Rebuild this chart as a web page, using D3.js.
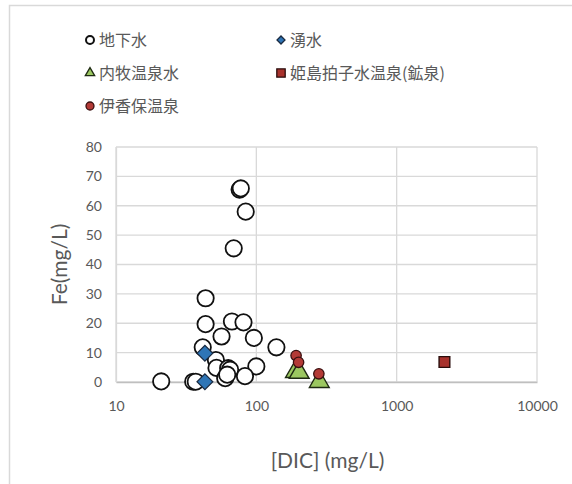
<!DOCTYPE html>
<html>
<head>
<meta charset="utf-8">
<script src="https://cdn.jsdelivr.net/npm/d3@7"></script>
<style>
  html, body { margin: 0; padding: 0; background: #fff; }
  svg { display: block; }
  .tick text { font-family: Lato, "Noto Sans", sans-serif; font-size: 14px; fill: #595959; }
</style>
</head>
<body>
<svg id="chart" width="572" height="484"></svg>
<script>
// [DIC (mg/L), Fe (mg/L)] pairs for each water type
const groundwater = [
  [76, 65.5], [77.5, 65.9], [84, 58.0], [69, 45.5],
  [43.5, 28.5], [43.5, 19.7], [67, 20.6], [81, 20.3],
  [56.5, 15.5], [96, 15.0], [139, 11.8], [41.5, 11.8],
  [51.5, 7.5], [52, 4.8], [63, 4.7], [65, 4.2],
  [60, 1.3], [62, 2.5], [100, 5.3], [83, 2.0],
  [21, 0.2], [35.5, 0.1], [37, 0.1]
];
const springs = [[43, 9.8], [43, 0.1]];
const uchinomaki = [[190, 3.5], [202, 3.2], [281, 0.1]];
const himeshima = [[2190, 6.8]];
const ikaho = [[192, 9.0], [200, 6.7], [279, 2.8]];

const seriesNames = ["地下水", "湧水", "内牧温泉水", "姫島拍子水温泉(鉱泉)", "伊香保温泉"];
const xTicks = [10, 100, 1000, 10000];
const yTicks = [0, 10, 20, 30, 40, 50, 60, 70, 80];

const svg = d3.select("#chart");
const W = 572, H = 484;
const plot = { left: 116, top: 147, right: 537, bottom: 382 };

// outer chart frame
svg.append("path")
  .attr("d", `M9.5,${H + 2} V5.5 H${W + 2}`)
  .attr("fill", "none").attr("stroke", "#d9d9d9").attr("stroke-width", 1.5);

const x = d3.scaleLog().domain([10, 10000]).range([plot.left, plot.right]);
const y = d3.scaleLinear().domain([0, 80]).range([plot.bottom, plot.top]);

// gridlines
const grid = svg.append("g");
grid.selectAll("line.h").data(yTicks).join("line")
  .attr("x1", plot.left).attr("x2", plot.right)
  .attr("y1", d => y(d)).attr("y2", d => y(d))
  .attr("stroke", "#d9d9d9").attr("stroke-width", 1.3);
grid.selectAll("line.v").data(xTicks).join("line")
  .attr("y1", plot.top).attr("y2", plot.bottom)
  .attr("x1", d => x(d)).attr("x2", d => x(d))
  .attr("stroke", "#d9d9d9").attr("stroke-width", 1.3);

// axes
const xAxis = svg.append("g").attr("transform", `translate(0,${plot.bottom})`)
  .call(d3.axisBottom(x).tickValues(xTicks).tickFormat(d3.format("d")).tickSize(0).tickPadding(19));
xAxis.select(".domain").attr("stroke", "#bfbfbf").attr("stroke-width", 1.3);

const yAxis = svg.append("g").attr("transform", `translate(${plot.left},0)`)
  .call(d3.axisLeft(y).tickValues(yTicks).tickSize(0).tickPadding(14));
yAxis.select(".domain").attr("stroke", "#d9d9d9").attr("stroke-width", 1.3);

// axis titles
svg.append("text")
  .attr("x", (plot.left + plot.right) / 2 + 1).attr("y", 468)
  .attr("text-anchor", "middle")
  .attr("font-family", "Lato, 'Noto Sans', sans-serif").attr("font-size", 21)
  .attr("fill", "#595959").text("[DIC] (mg/L)");
svg.append("text")
  .attr("transform", `translate(67,${(plot.top + plot.bottom) / 2}) rotate(-90)`)
  .attr("text-anchor", "middle")
  .attr("font-family", "Lato, 'Noto Sans', sans-serif").attr("font-size", 21)
  .attr("fill", "#595959").text("Fe(mg/L)");

// marker shapes (diamond = square turned 45°)
const styles = [
  { type: d3.symbolCircle, size: 210, rot: 0, fill: "#ffffff", stroke: "#111", sw: 1.8 },
  { type: d3.symbolSquare, size: 125, rot: 45, fill: "#2e75b6", stroke: "#1a2a40", sw: 1.2 },
  { type: d3.symbolTriangle, size: 170, rot: 0, fill: "#9bc760", stroke: "#1e2a12", sw: 1.4 },
  { type: d3.symbolSquare, size: 115, rot: 0, fill: "#a8322d", stroke: "#2a0d0c", sw: 1.4 },
  { type: d3.symbolCircle, size: 85, rot: 0, fill: "#b33a36", stroke: "#3a1010", sw: 1.3 }
];
const allSeries = [groundwater, springs, uchinomaki, himeshima, ikaho];

const marks = svg.append("g");
allSeries.forEach((data, i) => {
  const s = styles[i];
  marks.append("g").selectAll("path").data(data).join("path")
    .attr("transform", d => `translate(${x(d[0])},${y(d[1])}) rotate(${s.rot})`)
    .attr("d", d3.symbol().type(s.type).size(s.size))
    .attr("fill", s.fill).attr("stroke", s.stroke).attr("stroke-width", s.sw);
});

// legend
const legendPos = [[90, 40], [281, 40], [90, 73], [281, 73], [90, 106]];
const legendSizes = [50, 32, 38, 70, 50];
const legend = svg.append("g");
seriesNames.forEach((name, i) => {
  const s = styles[i];
  const [lx, ly] = legendPos[i];
  legend.append("path")
    .attr("transform", `translate(${lx},${ly}) rotate(${s.rot})`)
    .attr("d", d3.symbol().type(s.type).size(legendSizes[i]))
    .attr("fill", s.fill).attr("stroke", s.stroke).attr("stroke-width", i === 0 ? 2 : 1.3);
  legend.append("text")
    .attr("x", lx + 9).attr("y", ly + 6)
    .attr("font-family", "'Noto Sans CJK JP', sans-serif").attr("font-size", 16)
    .attr("fill", "#595959").text(name);
});
</script>
</body>
</html>
